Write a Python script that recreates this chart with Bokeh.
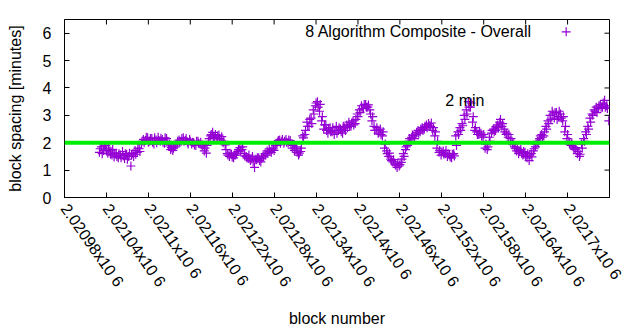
import math
from bokeh.plotting import figure
from bokeh.models import Range1d, FixedTicker, Span, Label
from bokeh.embed import file_html
from bokeh.resources import INLINE

# ---- data -------------------------------------------------------------
first_block = 2021030
block_step = 3
spacing = [
    1.65, 1.85, 1.72, 1.90, 1.62, 1.70, 1.55, 1.48, 1.62, 1.45,
    1.55, 1.68, 1.42, 1.58, 1.50, 1.15, 1.60, 1.72, 1.65, 1.78,
    1.95, 2.12, 2.08, 2.18, 2.05, 2.15, 1.95, 2.10, 2.20, 2.05,
    2.12, 1.98, 2.15, 1.88, 1.75, 1.72, 1.85, 1.95, 2.10, 2.05,
    2.18, 2.08, 2.02, 2.12, 1.95, 2.00, 1.90, 2.05, 1.95, 1.85,
    1.70, 1.62, 2.05, 2.25, 2.38, 2.20, 2.15, 2.28, 2.10, 2.00,
    1.92, 1.60, 1.50, 1.58, 1.45, 1.55, 1.68, 1.82, 1.75, 1.60,
    1.50, 1.42, 1.35, 1.50, 1.10, 1.38, 1.45, 1.30, 1.52, 1.60,
    1.70, 1.78, 1.65, 1.80, 1.90, 2.02, 2.10, 2.05, 1.98, 2.12,
    2.00, 2.08, 1.80, 1.72, 1.85, 1.55, 1.68, 2.25, 2.30, 2.75,
    2.60, 2.90, 3.20, 3.35, 3.50, 3.15, 2.80, 2.50, 2.65, 2.35,
    2.55, 2.40, 2.30, 2.60, 2.45, 2.50, 2.35, 2.55, 2.65, 2.75,
    2.60, 2.80, 2.70, 3.05, 3.20, 3.35, 3.25, 3.40, 3.30, 3.20,
    2.80, 2.60, 2.45, 2.35, 2.50, 2.25, 1.80, 1.70, 1.50, 1.40,
    1.30, 1.22, 1.10, 1.15, 1.28, 1.60, 1.75, 1.90, 2.15, 2.20,
    2.25, 2.30, 2.45, 2.40, 2.55, 2.50, 2.65, 2.70, 2.60, 2.45,
    2.25, 1.80, 1.65, 1.55, 1.70, 1.60, 1.50, 1.55, 1.45, 1.60,
    2.25, 2.40, 2.55, 2.70, 3.00, 3.20, 3.50, 3.30, 2.75, 2.45,
    2.40, 2.30, 2.35, 2.20, 1.80, 1.75, 2.20, 2.35, 2.50, 2.45,
    2.65, 2.75, 2.60, 2.50, 2.30, 2.20, 2.05, 1.95, 1.85, 1.70,
    1.60, 1.75, 1.55, 1.65, 1.45, 1.35, 1.60, 1.70, 1.85, 2.05,
    2.15, 2.30, 2.25, 2.60, 2.80, 3.00, 3.15, 2.90, 3.10, 2.95,
    3.05, 2.80, 2.40, 2.15, 2.05, 1.90, 1.85, 1.75, 1.60, 1.50,
    1.95, 2.15, 2.40, 2.60, 2.90, 3.05, 3.20, 3.30, 3.25, 3.40,
    3.30, 3.55, 3.35, 2.80,
]
# blocks in between (first_block + 1 + 3*i)
spacing_b = [
    1.78, 1.60, 1.88, 1.70, 1.80, 1.58, 1.75, 1.62, 1.50, 1.60,
    1.45, 1.52, 1.60, 1.40, 1.62, 1.55, 1.50, 1.58, 1.80, 1.68,
    2.05, 2.00, 2.20, 2.02, 2.15, 2.02, 2.18, 2.00, 2.08, 2.16,
    2.02, 2.18, 2.05, 1.95, 1.82, 1.80, 1.92, 2.05, 2.00, 2.15,
    2.05, 2.15, 1.95, 2.05, 2.02, 1.92, 2.05, 1.98, 2.02, 1.92,
    1.80, 1.90, 2.15, 2.30, 2.20, 2.30, 2.25, 2.15, 2.22, 2.05,
    1.75, 1.55, 1.62, 1.48, 1.55, 1.62, 1.75, 1.70, 1.85, 1.52,
    1.45, 1.55, 1.40, 1.30, 1.40, 1.45, 1.35, 1.42, 1.48, 1.55,
    1.62, 1.68, 1.75, 1.72, 1.98, 2.08, 1.98, 2.12, 2.05, 2.02,
    2.10, 1.95, 1.90, 1.78, 1.65, 1.62, 1.80, 2.18, 2.45, 2.60,
    2.85, 2.70, 3.05, 3.45, 3.30, 3.40, 2.95, 2.65, 2.45, 2.50,
    2.40, 2.55, 2.45, 2.35, 2.55, 2.40, 2.60, 2.45, 2.55, 2.62,
    2.72, 2.65, 2.85, 2.95, 3.10, 3.25, 3.40, 3.30, 3.38, 3.05,
    2.95, 2.45, 2.55, 2.45, 2.30, 2.40, 1.95, 1.60, 1.62, 1.35,
    1.38, 1.18, 1.25, 1.20, 1.40, 1.50, 1.85, 2.05, 2.05, 2.28,
    2.15, 2.38, 2.35, 2.50, 2.45, 2.60, 2.55, 2.62, 2.72, 2.55,
    2.40, 2.05, 1.72, 1.65, 1.58, 1.72, 1.60, 1.48, 1.58, 1.52,
    1.90, 2.30, 2.45, 2.62, 2.85, 3.05, 3.30, 3.45, 2.95, 2.55,
    2.30, 2.42, 2.25, 2.30, 1.95, 1.85, 2.05, 2.45, 2.40, 2.60,
    2.55, 2.85, 2.70, 2.40, 2.35, 2.30, 2.15, 2.00, 1.78, 1.80,
    1.70, 1.62, 1.68, 1.50, 1.60, 1.55, 1.48, 1.78, 1.95, 1.98,
    2.25, 2.20, 2.40, 2.50, 2.70, 2.85, 3.05, 3.10, 2.85, 3.15,
    2.90, 2.95, 2.60, 2.30, 1.95, 2.00, 1.78, 1.82, 1.68, 1.58,
    1.80, 2.05, 2.30, 2.50, 2.75, 3.00, 3.15, 3.10, 3.35, 3.30,
    3.45, 3.30, 3.25,
]
blocks = [first_block + block_step * i for i in range(len(spacing))]
blocks_b = [first_block + 1 + block_step * i for i in range(len(spacing_b))]
all_blocks = blocks + blocks_b
all_spacing = spacing + spacing_b

x_ticks = [2020980, 2021040, 2021100, 2021160, 2021220, 2021280, 2021340,
           2021400, 2021460, 2021520, 2021580, 2021640, 2021700, 2021760]
x_tick_labels = ["2.02098x10 6", "2.02104x10 6", "2.0211x10 6", "2.02116x10 6",
                 "2.02122x10 6", "2.02128x10 6", "2.02134x10 6", "2.0214x10 6",
                 "2.02146x10 6", "2.02152x10 6", "2.02158x10 6", "2.02164x10 6",
                 "2.0217x10 6", "2.02176x10 6"]
y_ticks = [0, 1, 2, 3, 4, 5, 6]
target_minutes = 2.0
series_name = "8 Algorithm Composite - Overall"
target_name = "2 min"

# ---- styles -----------------------------------------------------------
FONT = "Liberation Sans"
FS = "16px"
PURPLE = "#9400D3"
GREEN = "#00EE00"
x0, x1 = 2020980, 2021760
y0, y1 = 0, 6.5
TICK_LEN = 5
LABEL_ANGLE = math.radians(-55)
X_LABEL_STANDOFF = 8
BORDER_L, BORDER_R, BORDER_T, BORDER_B = 64, 31, 19, 133
WIDTH, HEIGHT = 640, 330

p = figure(width=WIDTH, height=HEIGHT, output_backend="svg", toolbar_location=None,
           x_range=Range1d(x0, x1), y_range=Range1d(y0, y1),
           min_border_left=BORDER_L, min_border_right=BORDER_R,
           min_border_top=BORDER_T, min_border_bottom=BORDER_B)
p.background_fill_color = "white"
p.border_fill_color = "white"
p.outline_line_color = "black"
p.outline_line_width = 1
p.grid.visible = False

p.scatter(all_blocks, all_spacing, marker="cross", size=9, line_color=PURPLE,
          line_width=1.2)

p.add_layout(Span(location=target_minutes, dimension="width",
                  line_color=GREEN, line_width=4))

def style_axis(ax):
    ax.axis_line_color = "black"
    ax.major_tick_line_color = "black"
    ax.major_tick_in = TICK_LEN
    ax.major_tick_out = 0
    ax.minor_tick_line_color = None
    ax.major_label_text_font = FONT
    ax.major_label_text_font_size = FS
    ax.major_label_text_color = "black"
    ax.axis_label_text_font = FONT
    ax.axis_label_text_font_size = FS
    ax.axis_label_text_font_style = "normal"
    ax.axis_label_text_color = "black"

xa = p.xaxis[0]
xa.ticker = FixedTicker(ticks=x_ticks[:-1])
xa.major_label_overrides = {t: l for t, l in zip(x_ticks[:-1], x_tick_labels[:-1])}
xa.major_label_orientation = LABEL_ANGLE
xa.axis_label = "block number"
style_axis(xa)
xa.major_label_standoff = X_LABEL_STANDOFF
xa.axis_label_standoff = 12

# last x tick label (at the right border), placed in canvas units so that it
# runs off the page edge like the original
p.add_layout(Label(x=WIDTH - BORDER_R, y=HEIGHT - BORDER_B + X_LABEL_STANDOFF,
                   x_units="canvas", y_units="canvas",
                   text=x_tick_labels[-1], angle=LABEL_ANGLE,
                   text_align="left", text_baseline="middle",
                   text_font=FONT, text_font_size=FS, text_color="black"))

ya = p.yaxis[0]
ya.ticker = FixedTicker(ticks=y_ticks)
ya.axis_label = "block spacing [minutes]"
style_axis(ya)
ya.major_label_standoff = 13
ya.axis_label_standoff = 16

# mirrored inward ticks on top and right borders
p.ray(x=x_ticks, y=[y1] * len(x_ticks), length=TICK_LEN, length_units="screen",
      angle=-math.pi / 2, line_color="black", line_width=1)
p.ray(x=[x1] * len(y_ticks), y=y_ticks, length=TICK_LEN, length_units="screen",
      angle=math.pi, line_color="black", line_width=1)

# legend (text then marker, gnuplot style)
leg_text_x = 2021649
leg_mark_x = 2021698
leg_y = 6.05
p.add_layout(Label(x=leg_text_x, y=leg_y, text=series_name, text_align="right",
                   text_baseline="middle", text_font=FONT, text_font_size=FS,
                   text_color="black"))
p.scatter([leg_mark_x], [leg_y], marker="cross", size=9, line_color=PURPLE,
          line_width=1.2)

p.add_layout(Label(x=2021525, y=3.53, text=target_name, text_align="left",
                   text_baseline="middle", text_font=FONT, text_font_size=FS,
                   text_color="black"))

open("out.html", "w").write(file_html(p, INLINE))
